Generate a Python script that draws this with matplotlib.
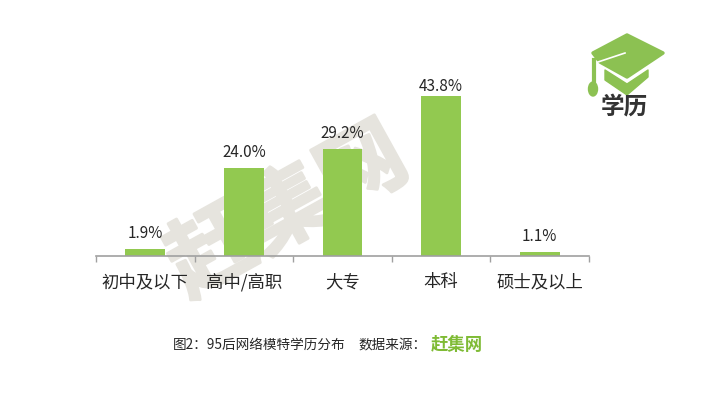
import matplotlib
matplotlib.use("Agg")
import matplotlib.pyplot as plt
import matplotlib.patheffects as pe
from matplotlib.patches import Polygon, Ellipse
import numpy as np

plt.rcParams['font.family'] = ['Noto Sans CJK SC', 'DejaVu Sans']

categories = ["初中及以下", "高中/高职", "大专", "本科", "硕士及以上"]
values = [1.9, 24.0, 29.2, 43.8, 1.1]
value_labels = ["1.9%", "24.0%", "29.2%", "43.8%", "1.1%"]
label_gaps = [5, 5, 5, 0.5, 5]  # the 本科 label sits closer to its bar

GREEN = "#92c950"
TEXT = "#262626"
W, H = 720, 405

fig = plt.figure(figsize=(7.2, 4.05), dpi=100, facecolor="white")

# pixel space overlay for the watermark, logo and caption
bg = fig.add_axes([0, 0, 1, 1], zorder=0)
bg.set_xlim(0, W)
bg.set_ylim(H, 0)
bg.axis("off")

# watermark sits behind the bars
bg.text(288, 212, "赶集网", fontsize=62, fontweight="bold", color="#e6e4de",
        rotation=29, ha="center", va="center", rotation_mode="anchor",
        path_effects=[pe.withStroke(linewidth=2, foreground="#e6e4de")])

# main chart
ax = fig.add_axes([96 / W, (H - 256) / H, 493 / W, 186 / H], zorder=1)
ax.patch.set_alpha(0)
x = np.arange(len(categories))
ax.bar(x, values, width=0.405, color=GREEN)
ax.set_xlim(-0.5, 4.5)
ax.set_ylim(0, 186 / 3.65)
for xi, v, lab, gap in zip(x, values, value_labels, label_gaps):
    ax.annotate(lab, (xi, v), xytext=(0, gap), textcoords="offset points",
                ha="center", va="bottom", fontsize=11, color=TEXT)

for s in ["top", "left", "right"]:
    ax.spines[s].set_visible(False)
ax.spines["bottom"].set_color("#a0a0a0")
ax.spines["bottom"].set_linewidth(1.2)
ax.set_yticks([])
ax.set_xticks(np.arange(-0.5, 5, 1))
ax.set_xticklabels([])
ax.tick_params(axis="x", length=4.5, width=1.0, color="#a0a0a0")
ax.set_xticks(x, minor=True)
ax.set_xticklabels(categories, minor=True, fontsize=12.5, color=TEXT)
ax.tick_params(axis="x", which="minor", length=0, pad=12.5)

# logo
fg = fig.add_axes([0, 0, 1, 1], zorder=2)
fg.set_xlim(0, W)
fg.set_ylim(H, 0)
fg.axis("off")
LOGO = "#8cc152"
fg.add_patch(Polygon([(627, 35), (663, 53), (627, 77), (600, 62), (593, 53)],
                     closed=True, fc=LOGO, ec=LOGO, lw=2.5, joinstyle="round"))
fg.add_patch(Polygon([(605, 70), (627, 84), (648, 70), (648, 77), (627, 95), (605, 80)],
                     closed=True, fc=LOGO, ec=LOGO, lw=1, joinstyle="round"))
fg.plot([625, 598], [53, 62], color="white", lw=1.2)
fg.plot([594, 594], [60, 82], color=LOGO, lw=3)
fg.add_patch(Ellipse((593, 89), 9, 14, fc=LOGO, ec=LOGO))
fg.text(624, 107, "学历", fontsize=17, fontweight="bold", color="#333333",
        ha="center", va="center")

# caption
fg.text(173, 345, "图2：95后网络模特学历分布", fontsize=9.8, color=TEXT, ha="left", va="center")
fg.text(358, 345, "数据来源：", fontsize=9.8, color=TEXT, ha="left", va="center")
fg.text(431, 345, "赶集网", fontsize=12.5, fontweight="bold", color="#7fbb35", ha="left", va="center")

fig.savefig("out.png", dpi=100)
